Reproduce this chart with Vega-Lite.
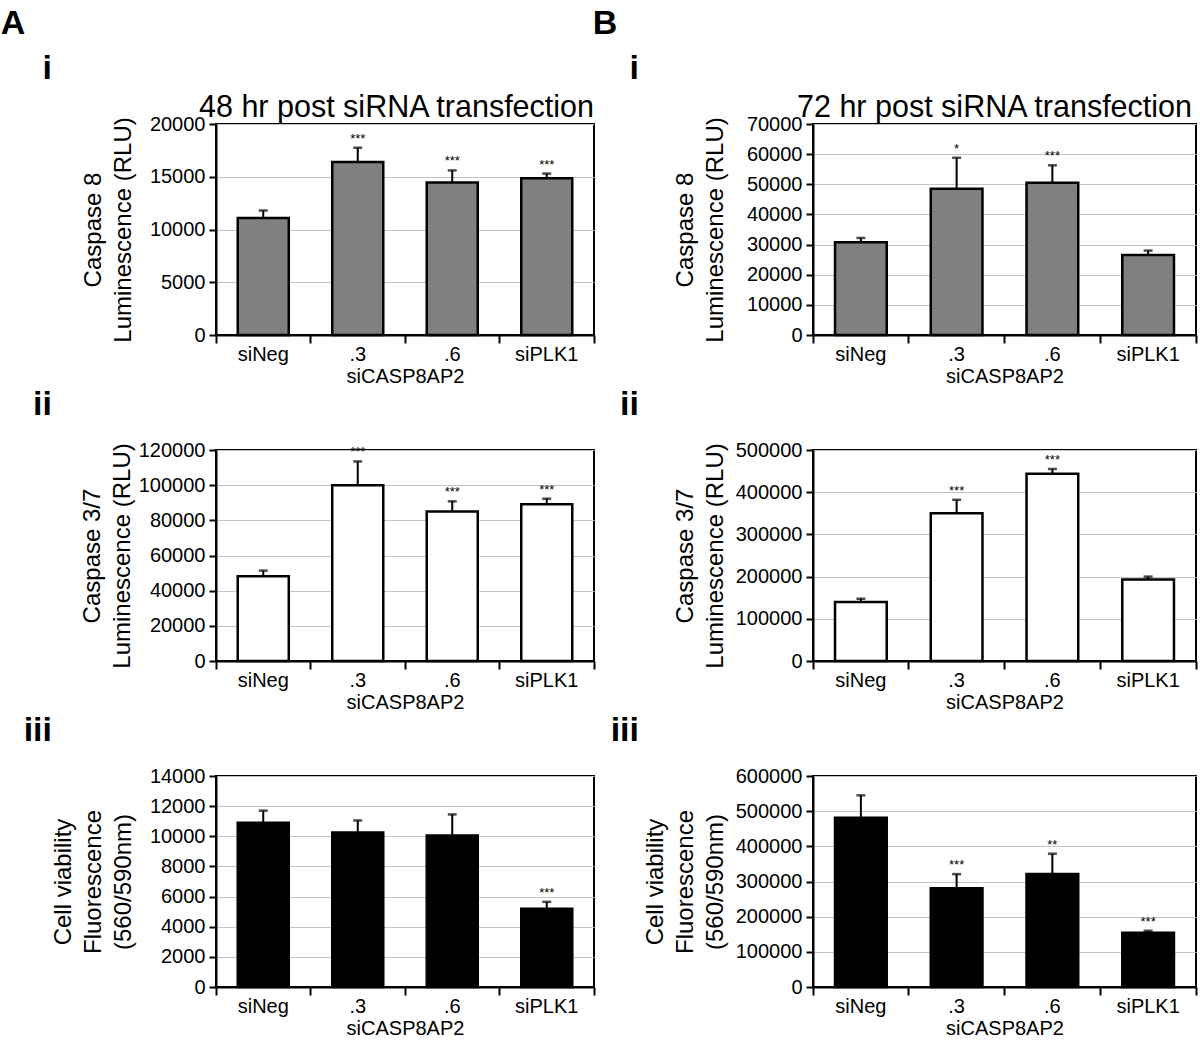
{
  "$schema": "https://vega.github.io/schema/vega-lite/v6.json",
  "background": "white",
  "padding": {"left": 0, "top": 7, "right": 5, "bottom": 5},
  "datasets": {
    "d": [
      {"p": "A1", "c": "siNeg", "m": 11100, "h": 11800, "s": ""},
      {"p": "A1", "c": ".3", "m": 16400, "h": 17750, "s": "***"},
      {"p": "A1", "c": ".6", "m": 14450, "h": 15600, "s": "***"},
      {"p": "A1", "c": "siPLK1", "m": 14850, "h": 15300, "s": "***"},
      {"p": "A2", "c": "siNeg", "m": 48200, "h": 51400, "s": ""},
      {"p": "A2", "c": ".3", "m": 100000, "h": 113500, "s": "***"},
      {"p": "A2", "c": ".6", "m": 85000, "h": 90800, "s": "***"},
      {"p": "A2", "c": "siPLK1", "m": 89200, "h": 92300, "s": "***"},
      {"p": "A3", "c": "siNeg", "m": 10900, "h": 11700, "s": ""},
      {"p": "A3", "c": ".3", "m": 10250, "h": 11050, "s": ""},
      {"p": "A3", "c": ".6", "m": 10050, "h": 11450, "s": ""},
      {"p": "A3", "c": "siPLK1", "m": 5200, "h": 5650, "s": "***"},
      {"p": "B1", "c": "siNeg", "m": 30800, "h": 32200, "s": ""},
      {"p": "B1", "c": ".3", "m": 48500, "h": 58800, "s": "*"},
      {"p": "B1", "c": ".6", "m": 50500, "h": 56300, "s": "***"},
      {"p": "B1", "c": "siPLK1", "m": 26500, "h": 28000, "s": ""},
      {"p": "B2", "c": "siNeg", "m": 140000, "h": 147500, "s": ""},
      {"p": "B2", "c": ".3", "m": 350000, "h": 382000, "s": "***"},
      {"p": "B2", "c": ".6", "m": 444000, "h": 455000, "s": "***"},
      {"p": "B2", "c": "siPLK1", "m": 193000, "h": 200000, "s": ""},
      {"p": "B3", "c": "siNeg", "m": 481000, "h": 545000, "s": ""},
      {"p": "B3", "c": ".3", "m": 281000, "h": 321000, "s": "***"},
      {"p": "B3", "c": ".6", "m": 321000, "h": 379000, "s": "**"},
      {"p": "B3", "c": "siPLK1", "m": 154000, "h": 160000, "s": "***"}
    ]
  },
  "data": {"name": "d"},
  "spacing": -4,
  "hconcat": [
    {
      "title": {"text": "A", "dx": -22, "offset": 10},
      "spacing": 0,
      "vconcat": [
        {
          "width": 378, "height": 211,
          "title": {"text": "i", "anchor": "start", "frame": "group", "align": "right", "dx": -164, "offset": 6},
          "transform": [{"filter": "datum.p == 'A1'"}],
          "resolve": {"axis": {"x": "independent"}},
          "encoding": {
            "x": {"field": "c", "type": "nominal", "sort": ["siNeg", ".3", ".6", "siPLK1"], "scale": {"paddingInner": 0, "paddingOuter": 0}, "axis": {"orient": "bottom", "title": "siCASP8AP2"}},
            "y": {"field": "m", "type": "quantitative", "scale": {"domain": [0, 20000], "nice": false}, "axis": {"values": [0, 5000, 10000, 15000, 20000], "format": "d", "title": ["Caspase 8", "Luminescence (RLU)"], "titlePadding": 14}}
          },
          "layer": [
            {"mark": {"type": "bar", "fill": "#808080", "stroke": "black", "strokeWidth": 2.5, "width": {"band": 0.54}}},
            {"mark": {"type": "rule", "color": "black", "strokeWidth": 2},
             "encoding": {
               "x": {"field": "c", "type": "nominal", "sort": ["siNeg", ".3", ".6", "siPLK1"], "scale": {"paddingInner": 0, "paddingOuter": 0}, "axis": {"orient": "bottom", "values": ["siPLK1"], "bandPosition": 1, "labels": false, "domain": false, "grid": false, "title": null}},
               "y2": {"field": "h"}
             }},
            {"mark": {"type": "tick", "color": "black", "thickness": 2.5, "size": 9, "orient": "horizontal"},
             "encoding": {
               "x": {"field": "c", "type": "nominal", "sort": ["siNeg", ".3", ".6", "siPLK1"], "scale": {"paddingInner": 0, "paddingOuter": 0}, "axis": null},
               "y": {"field": "h", "type": "quantitative", "scale": {"domain": [0, 20000], "nice": false}, "axis": {"values": [0, 5000, 10000, 15000, 20000], "format": "d", "title": ["Caspase 8", "Luminescence (RLU)"], "titlePadding": 14}}
             }},
            {"mark": {"type": "text", "fontSize": 13, "baseline": "bottom", "dy": -2, "color": "black"},
             "encoding": {
               "x": {"field": "c", "type": "nominal", "sort": ["siNeg", ".3", ".6", "siPLK1"], "scale": {"paddingInner": 0, "paddingOuter": 0}, "axis": {"orient": "top", "title": "48 hr post siRNA transfection", "labels": false, "ticks": false, "domain": false, "grid": false, "titleFontSize": 30.5, "titlePadding": 2, "titleX": 180}},
               "y": {"field": "h", "type": "quantitative", "scale": {"domain": [0, 20000], "nice": false}, "axis": {"values": [0, 5000, 10000, 15000, 20000], "format": "d", "title": ["Caspase 8", "Luminescence (RLU)"], "titlePadding": 14}},
               "text": {"field": "s"}
             }}
          ]
        },
        {
          "width": 378, "height": 211,
          "title": {"text": "ii", "anchor": "start", "frame": "group", "align": "right", "dx": -164, "offset": 18},
          "transform": [{"filter": "datum.p == 'A2'"}],
          "resolve": {"axis": {"x": "independent"}},
          "encoding": {
            "x": {"field": "c", "type": "nominal", "sort": ["siNeg", ".3", ".6", "siPLK1"], "scale": {"paddingInner": 0, "paddingOuter": 0}, "axis": {"orient": "bottom", "title": "siCASP8AP2"}},
            "y": {"field": "m", "type": "quantitative", "scale": {"domain": [0, 120000], "nice": false}, "axis": {"values": [0, 20000, 40000, 60000, 80000, 100000, 120000], "format": "d", "title": ["Caspase 3/7", "Luminescence (RLU)"], "titlePadding": 4}}
          },
          "layer": [
            {"mark": {"type": "bar", "fill": "white", "stroke": "black", "strokeWidth": 2.5, "width": {"band": 0.54}}},
            {"mark": {"type": "rule", "color": "black", "strokeWidth": 2},
             "encoding": {
               "x": {"field": "c", "type": "nominal", "sort": ["siNeg", ".3", ".6", "siPLK1"], "scale": {"paddingInner": 0, "paddingOuter": 0}, "axis": {"orient": "bottom", "values": ["siPLK1"], "bandPosition": 1, "labels": false, "domain": false, "grid": false, "title": null}},
               "y2": {"field": "h"}
             }},
            {"mark": {"type": "tick", "color": "black", "thickness": 2.5, "size": 9, "orient": "horizontal"},
             "encoding": {
               "x": {"field": "c", "type": "nominal", "sort": ["siNeg", ".3", ".6", "siPLK1"], "scale": {"paddingInner": 0, "paddingOuter": 0}, "axis": null},
               "y": {"field": "h", "type": "quantitative", "scale": {"domain": [0, 120000], "nice": false}, "axis": {"values": [0, 20000, 40000, 60000, 80000, 100000, 120000], "format": "d", "title": ["Caspase 3/7", "Luminescence (RLU)"], "titlePadding": 4}}
             }},
            {"mark": {"type": "text", "fontSize": 13, "baseline": "bottom", "dy": -2, "color": "black"},
             "encoding": {
               "x": {"field": "c", "type": "nominal", "sort": ["siNeg", ".3", ".6", "siPLK1"], "scale": {"paddingInner": 0, "paddingOuter": 0}, "axis": null},
               "y": {"field": "h", "type": "quantitative", "scale": {"domain": [0, 120000], "nice": false}, "axis": {"values": [0, 20000, 40000, 60000, 80000, 100000, 120000], "format": "d", "title": ["Caspase 3/7", "Luminescence (RLU)"], "titlePadding": 4}},
               "text": {"field": "s"}
             }}
          ]
        },
        {
          "width": 378, "height": 211,
          "title": {"text": "iii", "anchor": "start", "frame": "group", "align": "right", "dx": -164, "offset": 18},
          "transform": [{"filter": "datum.p == 'A3'"}],
          "resolve": {"axis": {"x": "independent"}},
          "encoding": {
            "x": {"field": "c", "type": "nominal", "sort": ["siNeg", ".3", ".6", "siPLK1"], "scale": {"paddingInner": 0, "paddingOuter": 0}, "axis": {"orient": "bottom", "title": "siCASP8AP2"}},
            "y": {"field": "m", "type": "quantitative", "scale": {"domain": [0, 14000], "nice": false}, "axis": {"values": [0, 2000, 4000, 6000, 8000, 10000, 12000, 14000], "format": "d", "title": ["Cell viability", "Fluorescence", "(560/590nm)"], "titlePadding": 14}}
          },
          "layer": [
            {"mark": {"type": "bar", "fill": "black", "stroke": "black", "strokeWidth": 2.5, "width": {"band": 0.54}}},
            {"mark": {"type": "rule", "color": "black", "strokeWidth": 2},
             "encoding": {
               "x": {"field": "c", "type": "nominal", "sort": ["siNeg", ".3", ".6", "siPLK1"], "scale": {"paddingInner": 0, "paddingOuter": 0}, "axis": {"orient": "bottom", "values": ["siPLK1"], "bandPosition": 1, "labels": false, "domain": false, "grid": false, "title": null}},
               "y2": {"field": "h"}
             }},
            {"mark": {"type": "tick", "color": "black", "thickness": 2.5, "size": 9, "orient": "horizontal"},
             "encoding": {
               "x": {"field": "c", "type": "nominal", "sort": ["siNeg", ".3", ".6", "siPLK1"], "scale": {"paddingInner": 0, "paddingOuter": 0}, "axis": null},
               "y": {"field": "h", "type": "quantitative", "scale": {"domain": [0, 14000], "nice": false}, "axis": {"values": [0, 2000, 4000, 6000, 8000, 10000, 12000, 14000], "format": "d", "title": ["Cell viability", "Fluorescence", "(560/590nm)"], "titlePadding": 14}}
             }},
            {"mark": {"type": "text", "fontSize": 13, "baseline": "bottom", "dy": -2, "color": "black"},
             "encoding": {
               "x": {"field": "c", "type": "nominal", "sort": ["siNeg", ".3", ".6", "siPLK1"], "scale": {"paddingInner": 0, "paddingOuter": 0}, "axis": null},
               "y": {"field": "h", "type": "quantitative", "scale": {"domain": [0, 14000], "nice": false}, "axis": {"values": [0, 2000, 4000, 6000, 8000, 10000, 12000, 14000], "format": "d", "title": ["Cell viability", "Fluorescence", "(560/590nm)"], "titlePadding": 14}},
               "text": {"field": "s"}
             }}
          ]
        }
      ]
    },
    {
      "title": {"text": "B", "dx": -17, "offset": 10},
      "spacing": 0,
      "vconcat": [
        {
          "width": 383, "height": 211,
          "title": {"text": "i", "anchor": "start", "frame": "group", "align": "right", "dx": -174, "offset": 6},
          "transform": [{"filter": "datum.p == 'B1'"}],
          "resolve": {"axis": {"x": "independent"}},
          "encoding": {
            "x": {"field": "c", "type": "nominal", "sort": ["siNeg", ".3", ".6", "siPLK1"], "scale": {"paddingInner": 0, "paddingOuter": 0}, "axis": {"orient": "bottom", "title": "siCASP8AP2"}},
            "y": {"field": "m", "type": "quantitative", "scale": {"domain": [0, 70000], "nice": false}, "axis": {"values": [0, 10000, 20000, 30000, 40000, 50000, 60000, 70000], "format": "d", "title": ["Caspase 8", "Luminescence (RLU)"], "titlePadding": 19}}
          },
          "layer": [
            {"mark": {"type": "bar", "fill": "#808080", "stroke": "black", "strokeWidth": 2.5, "width": {"band": 0.54}}},
            {"mark": {"type": "rule", "color": "black", "strokeWidth": 2},
             "encoding": {
               "x": {"field": "c", "type": "nominal", "sort": ["siNeg", ".3", ".6", "siPLK1"], "scale": {"paddingInner": 0, "paddingOuter": 0}, "axis": {"orient": "bottom", "values": ["siPLK1"], "bandPosition": 1, "labels": false, "domain": false, "grid": false, "title": null}},
               "y2": {"field": "h"}
             }},
            {"mark": {"type": "tick", "color": "black", "thickness": 2.5, "size": 9, "orient": "horizontal"},
             "encoding": {
               "x": {"field": "c", "type": "nominal", "sort": ["siNeg", ".3", ".6", "siPLK1"], "scale": {"paddingInner": 0, "paddingOuter": 0}, "axis": null},
               "y": {"field": "h", "type": "quantitative", "scale": {"domain": [0, 70000], "nice": false}, "axis": {"values": [0, 10000, 20000, 30000, 40000, 50000, 60000, 70000], "format": "d", "title": ["Caspase 8", "Luminescence (RLU)"], "titlePadding": 19}}
             }},
            {"mark": {"type": "text", "fontSize": 13, "baseline": "bottom", "dy": -2, "color": "black"},
             "encoding": {
               "x": {"field": "c", "type": "nominal", "sort": ["siNeg", ".3", ".6", "siPLK1"], "scale": {"paddingInner": 0, "paddingOuter": 0}, "axis": {"orient": "top", "title": "72 hr post siRNA transfection", "labels": false, "ticks": false, "domain": false, "grid": false, "titleFontSize": 30.5, "titlePadding": 2, "titleX": 181}},
               "y": {"field": "h", "type": "quantitative", "scale": {"domain": [0, 70000], "nice": false}, "axis": {"values": [0, 10000, 20000, 30000, 40000, 50000, 60000, 70000], "format": "d", "title": ["Caspase 8", "Luminescence (RLU)"], "titlePadding": 19}},
               "text": {"field": "s"}
             }}
          ]
        },
        {
          "width": 383, "height": 211,
          "title": {"text": "ii", "anchor": "start", "frame": "group", "align": "right", "dx": -174, "offset": 18},
          "transform": [{"filter": "datum.p == 'B2'"}],
          "resolve": {"axis": {"x": "independent"}},
          "encoding": {
            "x": {"field": "c", "type": "nominal", "sort": ["siNeg", ".3", ".6", "siPLK1"], "scale": {"paddingInner": 0, "paddingOuter": 0}, "axis": {"orient": "bottom", "title": "siCASP8AP2"}},
            "y": {"field": "m", "type": "quantitative", "scale": {"domain": [0, 500000], "nice": false}, "axis": {"values": [0, 100000, 200000, 300000, 400000, 500000], "format": "d", "title": ["Caspase 3/7", "Luminescence (RLU)"], "titlePadding": 8}}
          },
          "layer": [
            {"mark": {"type": "bar", "fill": "white", "stroke": "black", "strokeWidth": 2.5, "width": {"band": 0.54}}},
            {"mark": {"type": "rule", "color": "black", "strokeWidth": 2},
             "encoding": {
               "x": {"field": "c", "type": "nominal", "sort": ["siNeg", ".3", ".6", "siPLK1"], "scale": {"paddingInner": 0, "paddingOuter": 0}, "axis": {"orient": "bottom", "values": ["siPLK1"], "bandPosition": 1, "labels": false, "domain": false, "grid": false, "title": null}},
               "y2": {"field": "h"}
             }},
            {"mark": {"type": "tick", "color": "black", "thickness": 2.5, "size": 9, "orient": "horizontal"},
             "encoding": {
               "x": {"field": "c", "type": "nominal", "sort": ["siNeg", ".3", ".6", "siPLK1"], "scale": {"paddingInner": 0, "paddingOuter": 0}, "axis": null},
               "y": {"field": "h", "type": "quantitative", "scale": {"domain": [0, 500000], "nice": false}, "axis": {"values": [0, 100000, 200000, 300000, 400000, 500000], "format": "d", "title": ["Caspase 3/7", "Luminescence (RLU)"], "titlePadding": 8}}
             }},
            {"mark": {"type": "text", "fontSize": 13, "baseline": "bottom", "dy": -2, "color": "black"},
             "encoding": {
               "x": {"field": "c", "type": "nominal", "sort": ["siNeg", ".3", ".6", "siPLK1"], "scale": {"paddingInner": 0, "paddingOuter": 0}, "axis": null},
               "y": {"field": "h", "type": "quantitative", "scale": {"domain": [0, 500000], "nice": false}, "axis": {"values": [0, 100000, 200000, 300000, 400000, 500000], "format": "d", "title": ["Caspase 3/7", "Luminescence (RLU)"], "titlePadding": 8}},
               "text": {"field": "s"}
             }}
          ]
        },
        {
          "width": 383, "height": 211,
          "title": {"text": "iii", "anchor": "start", "frame": "group", "align": "right", "dx": -174, "offset": 18},
          "transform": [{"filter": "datum.p == 'B3'"}],
          "resolve": {"axis": {"x": "independent"}},
          "encoding": {
            "x": {"field": "c", "type": "nominal", "sort": ["siNeg", ".3", ".6", "siPLK1"], "scale": {"paddingInner": 0, "paddingOuter": 0}, "axis": {"orient": "bottom", "title": "siCASP8AP2"}},
            "y": {"field": "m", "type": "quantitative", "scale": {"domain": [0, 600000], "nice": false}, "axis": {"values": [0, 100000, 200000, 300000, 400000, 500000, 600000], "format": "d", "title": ["Cell viability", "Fluorescence", "(560/590nm)"], "titlePadding": 8}}
          },
          "layer": [
            {"mark": {"type": "bar", "fill": "black", "stroke": "black", "strokeWidth": 2.5, "width": {"band": 0.54}}},
            {"mark": {"type": "rule", "color": "black", "strokeWidth": 2},
             "encoding": {
               "x": {"field": "c", "type": "nominal", "sort": ["siNeg", ".3", ".6", "siPLK1"], "scale": {"paddingInner": 0, "paddingOuter": 0}, "axis": {"orient": "bottom", "values": ["siPLK1"], "bandPosition": 1, "labels": false, "domain": false, "grid": false, "title": null}},
               "y2": {"field": "h"}
             }},
            {"mark": {"type": "tick", "color": "black", "thickness": 2.5, "size": 9, "orient": "horizontal"},
             "encoding": {
               "x": {"field": "c", "type": "nominal", "sort": ["siNeg", ".3", ".6", "siPLK1"], "scale": {"paddingInner": 0, "paddingOuter": 0}, "axis": null},
               "y": {"field": "h", "type": "quantitative", "scale": {"domain": [0, 600000], "nice": false}, "axis": {"values": [0, 100000, 200000, 300000, 400000, 500000, 600000], "format": "d", "title": ["Cell viability", "Fluorescence", "(560/590nm)"], "titlePadding": 8}}
             }},
            {"mark": {"type": "text", "fontSize": 13, "baseline": "bottom", "dy": -2, "color": "black"},
             "encoding": {
               "x": {"field": "c", "type": "nominal", "sort": ["siNeg", ".3", ".6", "siPLK1"], "scale": {"paddingInner": 0, "paddingOuter": 0}, "axis": null},
               "y": {"field": "h", "type": "quantitative", "scale": {"domain": [0, 600000], "nice": false}, "axis": {"values": [0, 100000, 200000, 300000, 400000, 500000, 600000], "format": "d", "title": ["Cell viability", "Fluorescence", "(560/590nm)"], "titlePadding": 8}},
               "text": {"field": "s"}
             }}
          ]
        }
      ]
    }
  ],
  "config": {
    "font": "Liberation Sans",
    "view": {"stroke": "black", "strokeWidth": 2},
    "axis": {
      "labelFont": "Liberation Sans", "labelFontSize": 20, "labelColor": "black",
      "titleFont": "Liberation Sans", "titleFontSize": 24, "titleFontWeight": "normal", "titleColor": "black",
      "domainColor": "black", "domainWidth": 2, "tickColor": "black", "tickWidth": 2,
      "gridColor": "#c4c4c4", "gridWidth": 1
    },
    "axisX": {"grid": false, "labelAngle": 0, "bandPosition": 0, "tickSize": 8, "labelPadding": 1, "titleFontSize": 20, "titlePadding": 2},
    "axisY": {"grid": true, "tickSize": 7, "labelPadding": 4, "titleLineHeight": 30},
    "title": {"font": "Liberation Sans", "fontSize": 34, "fontWeight": "bold", "color": "black"}
  }
}
